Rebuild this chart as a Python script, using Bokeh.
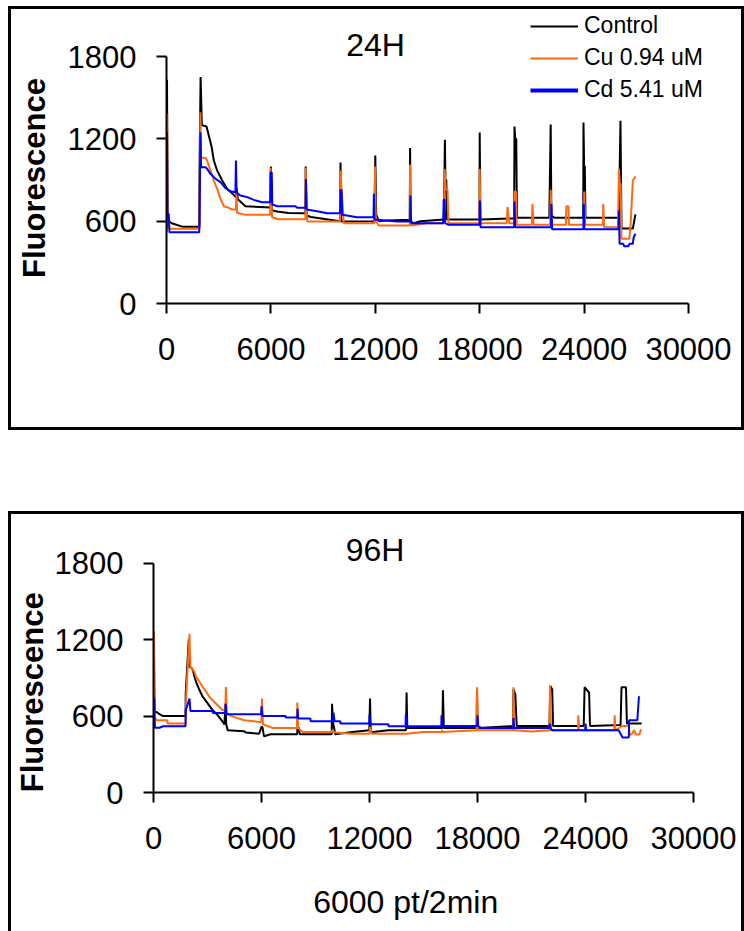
from bokeh.plotting import figure
from bokeh.models import Range1d, FixedTicker, Legend, LegendItem, Label
from bokeh.layouts import column
from bokeh.embed import file_html
from bokeh.resources import INLINE

FONT = "Liberation Sans"
NB = "\u00a0"

x_ticks = [0, 6000, 12000, 18000, 24000, 30000]
x_tick_labels = ["0", "6000", "12000", "18000", "24000", "30000"]
y_ticks = [0, 600, 1200, 1800]
y_tick_labels = ["0", "600", "1200", "1800"]

series_names = ["Control", "Cu 0.94 uM", "Cd 5.41 uM"]
series_colors = ["#000000", "#FF6A10", "#0000FF"]

# ---------------- 24H ----------------
ctrl24_x = [0, 30, 60, 120, 300, 900, 1880, 1900, 1960, 2030, 2300, 2430, 2590, 2720, 2910,
            3200, 3490, 3800, 4000, 4030, 4100, 4540, 5980, 6000, 6050, 6360, 7000, 7980, 8000,
            8050, 8300, 9980, 10000, 10050, 11950, 12000, 12050, 12200, 12700, 13980, 14000,
            14030, 14200, 14600, 15940, 16000, 16030, 16080, 16120, 17000, 17990, 18000, 18040,
            19980, 20000, 20040, 20100, 20140, 22000, 22080, 22120, 22300, 23950, 23965, 24000,
            24040, 24080, 26000, 26090, 26150, 26800, 26950]
ctrl24_y = [560, 1630, 650, 600, 585, 560, 560, 1000, 1650, 1300, 1290, 1224, 1144, 1042, 969,
            896, 835, 799, 775, 840, 760, 709, 700, 998, 680, 670, 660, 658, 998,
            641, 630, 600, 1027, 597, 600, 1079, 650, 600, 605, 610, 1134,
            600, 585, 600, 612, 1193, 900, 900, 612, 612, 612, 1246, 612,
            620, 1290, 1200, 1200, 625, 625, 1304, 640, 625, 625, 1319, 1000,
            1000, 625, 625, 1331, 546, 546, 649]

cu24_x = [0, 40, 80, 150, 1880, 1900, 1950, 1990, 2240, 2340, 2430, 2530, 2720, 2910, 3010,
          3100, 3300, 3580, 3770, 3990, 4020, 4060, 4540, 5960, 5980, 6030, 6070, 6450, 7980,
          8000, 8030, 8100, 9980, 10000, 10080, 10190, 11950, 11980, 12030, 12200, 13980, 14000,
          14050, 14980, 15960, 15980, 16050, 16150, 16200, 17990, 18000, 18040, 19550, 19600,
          19700, 19990, 20000, 20080, 20120, 21000, 21030, 21100, 22050, 22080, 22150, 22950,
          22980, 23100, 23130, 23990, 24010, 24060, 25080, 25100, 25150, 25950, 26000, 26050,
          26100, 26150, 26600, 26680, 26800, 26950]
cu24_y = [544, 1382, 560, 544, 544, 585, 1394, 1062, 1062, 1042, 1006, 969, 896, 835, 799,
          763, 709, 697, 685, 685, 811, 661, 646, 646, 989, 740, 629, 614, 614,
          989, 700, 597, 597, 969, 800, 585, 585, 998, 600, 568, 568, 1013,
          568, 585, 585, 981, 830, 830, 585, 585, 981, 585, 585, 702,
          585, 585, 816, 816, 573, 573, 726, 573, 573, 828, 573, 573,
          709, 709, 573, 573, 816, 573, 573, 726, 556, 556, 981, 872,
          872, 471, 471, 589, 896, 925]

cd24_x = [0, 30, 60, 130, 170, 1880, 1900, 1950, 1990, 2240, 2340, 2530, 2820, 3100, 3390,
          3680, 3960, 3990, 4030, 4060, 4250, 4640, 5020, 5500, 5960, 5980, 6050, 6080, 6360,
          7410, 7510, 8000, 8020, 8050, 8660, 9230, 9980, 10000, 10060, 10100, 10960, 11900,
          11920, 11950, 13260, 14000, 14020, 14060, 15900, 15930, 15980, 16020, 16200, 17990,
          18010, 18050, 19980, 20000, 20040, 22100, 22120, 22160, 23960, 23980, 24020, 25980,
          26000, 26040, 26250, 26300, 26550, 26600, 26800, 26850, 26950]
cd24_y = [520, 1248, 653, 653, 520, 520, 585, 1248, 993, 993, 981, 945, 908, 884, 840,
          818, 810, 1042, 810, 804, 787, 775, 755, 738, 738, 955, 955, 721, 709,
          709, 697, 697, 908, 685, 673, 658, 658, 828, 828, 646, 629, 629,
          799, 612, 597, 597, 787, 585, 585, 756, 756, 585, 573, 573,
          751, 556, 556, 744, 556, 556, 726, 542, 542, 726, 542, 542,
          678, 435, 435, 418, 418, 435, 435, 483, 508]

# ---------------- 96H ----------------
ctrl96_x = [0, 20, 60, 170, 330, 540, 1780, 1790, 1960, 2000, 2100, 2190, 2280, 2370, 2560,
            2740, 3020, 3290, 3570, 3850, 3940, 4000, 4040, 4120, 5040, 5130, 5870, 6000, 6050,
            6140, 6510, 7980, 8000, 8060, 8130, 9900, 9920, 9960, 10100, 10930, 11990, 12030,
            12070, 13050, 14030, 14060, 14100, 16050, 16080, 16130, 17950, 17970, 18010, 19980,
            20000, 20100, 20180, 22000, 22040, 22150, 22200, 23900, 23950, 24200, 24250, 25950,
            26000, 26250, 26300, 27120]
ctrl96_y = [600, 1200, 632, 632, 615, 600, 600, 781, 1202, 985, 980, 959, 906, 867, 802,
            750, 698, 645, 606, 554, 535, 697, 535, 488, 481, 470, 462, 515, 515,
            441, 457, 457, 510, 510, 457, 457, 697, 560, 457, 473, 488, 737,
            473, 488, 488, 784, 507, 507, 802, 507, 507, 802, 507, 522,
            810, 771, 522, 522, 836, 810, 522, 522, 826, 784, 522, 530,
            826, 826, 541, 541]

cu96_x = [0, 30, 60, 150, 770, 780, 1780, 1820, 2000, 2050, 2280, 2370, 2560, 2740, 2930,
          3110, 3290, 3480, 3660, 3850, 3990, 4020, 4060, 4300, 4580, 5040, 5870, 5990, 6030,
          6080, 6600, 7970, 7990, 8030, 8300, 9900, 9920, 10100, 11020, 12000, 12030, 12120,
          14060, 14980, 16000, 16030, 16060, 17950, 17980, 18020, 19980, 20000, 20040, 21000,
          22000, 22030, 22080, 23580, 23600, 23640, 25600, 25620, 25660, 26050, 26400, 26460,
          26600, 26700, 26800, 27000, 27080]
cu96_y = [593, 1268, 593, 567, 567, 541, 541, 764, 1246, 985, 946, 906, 867, 828, 790,
          750, 724, 697, 671, 645, 645, 828, 625, 601, 588, 567, 554, 554, 737,
          536, 507, 507, 706, 507, 475, 475, 488, 470, 462, 462, 515, 462,
          462, 475, 475, 490, 475, 488, 826, 488, 488, 826, 488, 478,
          488, 841, 488, 488, 606, 488, 488, 606, 488, 522, 522, 449,
          462, 490, 455, 455, 496]

cd96_x = [0, 40, 80, 330, 540, 1780, 1790, 2000, 2050, 3290, 3300, 3990, 4010, 4060, 5980,
          6000, 6050, 7340, 7350, 7990, 8000, 8040, 8720, 8730, 9980, 10000, 10060, 10380,
          10390, 11990, 12000, 12050, 13050, 13060, 14000, 14020, 14060, 15990, 16000, 16040,
          17980, 18000, 18040, 18200, 19980, 20000, 20040, 22000, 22020, 22060, 22150, 23980,
          24000, 24040, 25840, 26060, 26400, 26410, 26420, 26880, 26900, 26970]
cd96_y = [520, 737, 508, 508, 520, 520, 645, 737, 640, 640, 624, 624, 697, 614, 614,
          676, 601, 601, 588, 588, 658, 580, 580, 559, 559, 627, 559, 559,
          541, 541, 611, 536, 536, 520, 520, 611, 520, 522, 606, 522,
          522, 606, 522, 506, 506, 585, 506, 506, 541, 506, 488, 488,
          541, 488, 488, 431, 431, 449, 567, 567, 612, 755]


def make_panel(w, h, mbl, mbr, mbt, mbb, x_end, y_end, ylabel_pad, ylabel_standoff):
    p = figure(width=w, height=h, x_range=Range1d(0, x_end), y_range=Range1d(0, y_end),
               output_backend="svg", toolbar_location=None,
               min_border_left=mbl, min_border_right=mbr,
               min_border_top=mbt, min_border_bottom=mbb)
    p.grid.visible = False
    p.outline_line_color = None
    p.background_fill_color = "white"
    p.border_fill_color = "white"
    for ax, ticks, labels in ((p.xaxis[0], x_ticks, x_tick_labels),
                              (p.yaxis[0], y_ticks, y_tick_labels)):
        ax.ticker = FixedTicker(ticks=ticks, minor_ticks=[])
        ax.major_label_overrides = {t: l for t, l in zip(ticks, labels)}
        ax.bounds = (ticks[0], ticks[-1])
        ax.axis_line_width = 2
        ax.axis_line_color = "black"
        ax.major_tick_line_width = 2
        ax.major_tick_line_color = "black"
        ax.major_tick_out = 10
        ax.major_tick_in = 0
        ax.minor_tick_out = 0
        ax.minor_tick_in = 0
        ax.major_label_text_font = FONT
        ax.major_label_text_font_size = "31px"
        ax.major_label_text_color = "black"
    p.xaxis.major_label_standoff = 24
    p.yaxis.major_label_standoff = 20
    p.yaxis.axis_label = "Fluorescence" + NB * ylabel_pad
    p.yaxis.axis_label_text_font = FONT
    p.yaxis.axis_label_text_font_size = "31px"
    p.yaxis.axis_label_text_font_style = "bold"
    p.yaxis.axis_label_text_color = "black"
    p.yaxis.axis_label_standoff = ylabel_standoff
    return p


def add_series(p, xs, ys, widths):
    rs = []
    for x, y, c, lw in zip(xs, ys, series_colors, widths):
        rs.append(p.line(x, y, line_color=c, line_width=lw))
    return rs


# top panel: frame spans page x 166..741, y 9..303 ; axis 0..30000 -> 166..688, 0..1800 -> 303..56
p1 = make_panel(730, 418, 155, 0, 0, 124,
                30000 * (741 - 166) / (688 - 166), 1800 * (303 - 9) / (303 - 56), 5, 13)
r24 = add_series(p1, [ctrl24_x, cu24_x, cd24_x], [ctrl24_y, cu24_y, cd24_y], [2, 2, 2])
p1.add_layout(Label(x=12011, y=1887, text="24H", text_align="center", text_baseline="middle",
                    text_font=FONT, text_font_size="32px", text_color="black"))

leg_cd = p1.line(cd24_x, cd24_y, line_color=series_colors[2], line_width=4, visible=False)
legend = Legend(items=[LegendItem(label=series_names[0], renderers=[r24[0]]),
                       LegendItem(label=series_names[1], renderers=[r24[1]]),
                       LegendItem(label=series_names[2], renderers=[leg_cd])],
                location=(364, 200), orientation="vertical",
                border_line_color=None, background_fill_alpha=0,
                padding=0, margin=0, spacing=5,
                glyph_width=48, glyph_height=26, label_height=26, label_standoff=6,
                label_text_font=FONT, label_text_font_size="23px", label_text_color="black")
p1.add_layout(legend, "center")

# bottom panel: frame spans page x 152..693, y 514..792 ; 0..1800 -> 792..563
p2 = make_panel(730, 417, 141, 48, 0, 139,
                30000, 1800 * (792.3 - 514) / (792.3 - 562.7), 9, 2)
add_series(p2, [ctrl96_x, cu96_x, cd96_x], [ctrl96_y, cu96_y, cd96_y], [2, 2, 2])
p2.xaxis.axis_label = "6000 pt/2min" + NB * 4
p2.xaxis.axis_label_text_font = FONT
p2.xaxis.axis_label_text_font_size = "32px"
p2.xaxis.axis_label_text_font_style = "normal"
p2.xaxis.axis_label_text_color = "black"
p2.xaxis.axis_label_standoff = 32
p2.add_layout(Label(x=12311, y=1907, text="96H", text_align="center", text_baseline="middle",
                    text_font=FONT, text_font_size="32px", text_color="black"))

box1 = column(p1, styles={"border": "3px solid black"})
box2 = column(p2, styles={"border-left": "3px solid black", "border-top": "3px solid black",
                          "border-right": "3px solid black"})
root = column(box1, box2, spacing=81, styles={"margin-left": "8px", "margin-top": "6px"})

open("out.html", "w").write(file_html(root, INLINE))
